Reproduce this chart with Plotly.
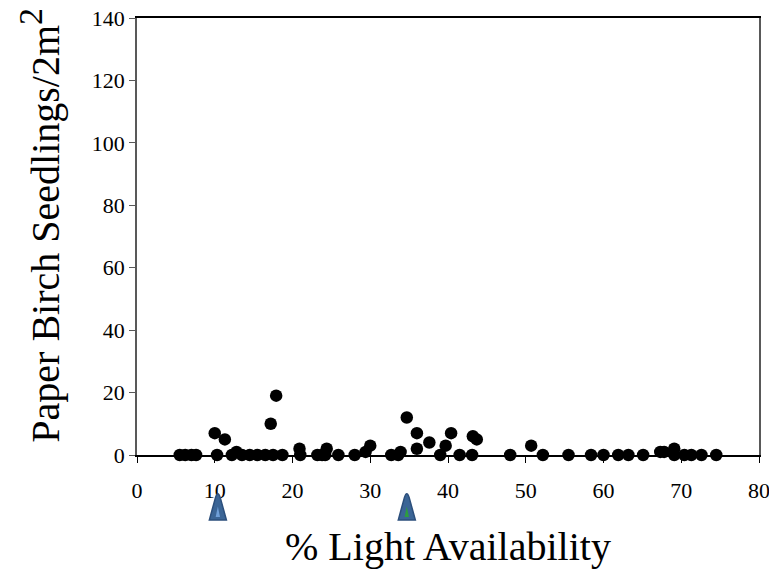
import plotly.graph_objects as go

# % light availability (x) and paper birch seedlings per 2 m^2 (y)
light = [5.5, 6.2, 7.0, 7.6, 10.0, 10.3, 11.3, 12.2, 12.8, 13.5, 14.5, 15.5, 16.5, 17.2, 17.5, 17.9,
         18.7, 20.9, 21.0, 23.2, 23.8, 24.4, 24.2, 25.9, 28.0, 29.4, 30.0, 32.7, 33.6, 33.9,
         34.7, 36.0, 36.0, 37.6, 39.0, 39.7, 40.4, 41.5, 43.1, 43.2, 43.7, 48.0, 50.7, 52.2,
         55.5, 58.4, 60.0, 61.9, 63.2, 65.1, 67.3, 67.8, 69.1, 69.1, 70.4, 71.3, 72.6, 74.5]
seedlings = [0, 0, 0, 0, 7, 0, 5, 0, 1, 0, 0, 0, 0, 10, 0, 19,
             0, 2, 0, 0, 0, 2, 0, 0, 0, 1, 3, 0, 0, 1,
             12, 7, 2, 4, 0, 3, 7, 0, 0, 6, 5, 0, 3, 0,
             0, 0, 0, 0, 0, 0, 1, 1, 2, 0, 0, 0, 0, 0]

# arrow markers below the x axis
arrow_x = [10.4, 34.7]
arrow_inner = ["#6f9fd8", "#2e9e3e"]

x_ticks = [0, 10, 20, 30, 40, 50, 60, 70, 80]
y_ticks = [0, 20, 40, 60, 80, 100, 120, 140]

x_title = "% Light Availability"
y_title = "Paper Birch Seedlings/2m<sup><span style='font-size:34px'>2</span></sup>"

FONT = "Liberation Serif"

fig = go.Figure()
fig.add_trace(go.Scatter(
    x=light, y=seedlings, mode="markers",
    marker=dict(color="black", size=12.5),
    cliponaxis=False, showlegend=False,
))

shapes = []
for ax_, inner in zip(arrow_x, arrow_inner):
    hw = 1.1
    shapes.append(dict(
        type="path", xref="x", yref="paper",
        path=(f"M {ax_-hw},-0.149 L {ax_-0.3},-0.097 Q {ax_},-0.080 {ax_+0.3},-0.097 "
              f"L {ax_+hw},-0.149 Z"),
        fillcolor="#3b6596", line=dict(color="#2c4f7c", width=1.5), layer="above",
    ))
    shapes.append(dict(
        type="path", xref="x", yref="paper",
        path=f"M {ax_-0.28},-0.142 L {ax_},-0.118 L {ax_+0.28},-0.142 Z",
        fillcolor=inner, line=dict(width=0), layer="above",
    ))

fig.update_layout(
    width=769, height=561,
    margin=dict(l=129, r=18, t=10, b=114),
    paper_bgcolor="white", plot_bgcolor="white",
    font=dict(family=FONT, color="black", size=22),
    shapes=shapes,
    annotations=[dict(
        text=y_title, textangle=-90, showarrow=False,
        xref="paper", yref="paper", x=-0.156, y=0.527,
        xanchor="center", yanchor="middle",
        font=dict(size=40, family=FONT, color="black"),
    )],
    xaxis=dict(
        range=[0, 80], tickvals=x_ticks, ticktext=[str(v) for v in x_ticks],
        showgrid=False, zeroline=False, automargin=False,
        showline=True, linecolor="black", linewidth=1.5, mirror=True,
        ticks="outside", ticklen=6, tickcolor="black", tickwidth=1,
        ticklabelstandoff=9, ticklabeloverflow="allow",
        tickfont=dict(size=22),
        title=dict(text=x_title, font=dict(size=40), standoff=30),
    ),
    yaxis=dict(
        range=[0, 140], tickvals=y_ticks, ticktext=[str(v) for v in y_ticks],
        showgrid=False, zeroline=False, automargin=False,
        showline=True, linecolor="#595959", linewidth=1.5, mirror=True,
        ticks="outside", ticklen=6, tickcolor="#595959", tickwidth=1,
        ticklabeloverflow="allow",
        tickfont=dict(size=22),
    ),
)

fig.write_html("out.html")
